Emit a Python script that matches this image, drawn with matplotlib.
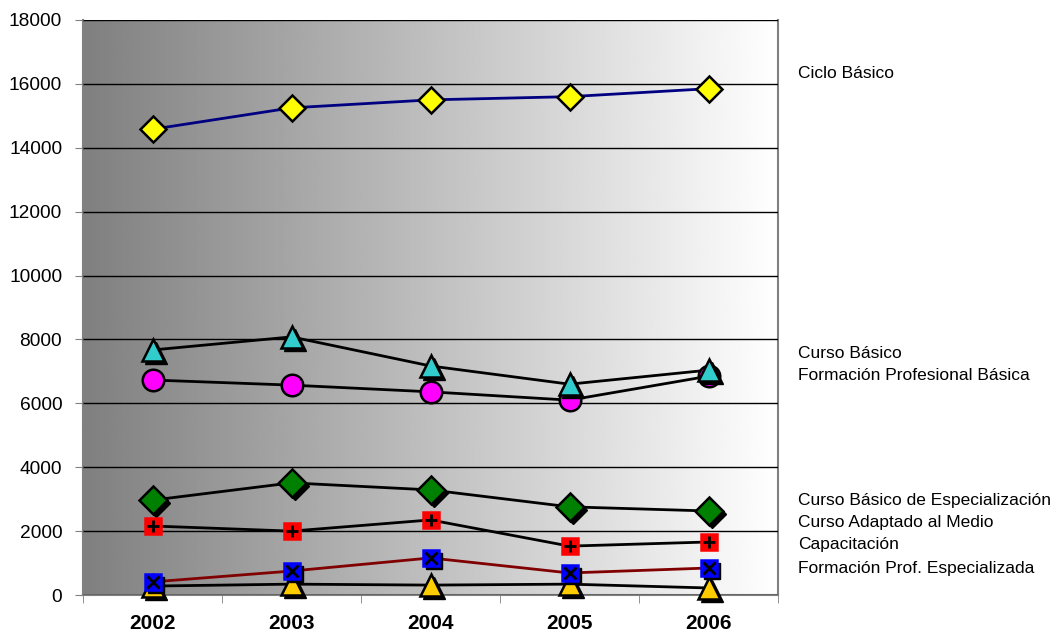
import numpy as np
import matplotlib.pyplot as plt
from matplotlib.transforms import offset_copy

plt.rcParams['font.family'] = ['Liberation Sans', 'DejaVu Sans']

years = ['2002', '2003', '2004', '2005', '2006']
ciclo_basico = [14580, 15250, 15500, 15600, 15850]
curso_basico = [7670, 8080, 7170, 6600, 7040]
fp_basica = [6730, 6570, 6360, 6100, 6850]
curso_esp = [2970, 3510, 3290, 2760, 2630]
curso_adaptado = [2160, 2000, 2350, 1530, 1660]
capacitacion = [410, 750, 1160, 690, 845]
fp_especializada = [280, 340, 310, 340, 220]

labels = ['Ciclo Básico', 'Curso Básico', 'Formación Profesional Básica',
          'Curso Básico de Especialización', 'Curso Adaptado al Medio',
          'Capacitación', 'Formación Prof. Especializada']

fig = plt.figure(figsize=(10.57, 6.37), dpi=100)
ax = fig.add_axes([83 / 1057, 42 / 637, 695 / 1057, 575 / 637])

# gradient background, dark gray at left to white at right
grad = np.linspace(0.5, 1.0, 256).reshape(1, -1)
ax.imshow(grad, cmap='gray', vmin=0, vmax=1, aspect='auto',
          extent=[0, 1, 0, 1], transform=ax.transAxes, zorder=0)

x = np.arange(len(years))
z = [3]


def series(vals, marker, face, line, size, shadow=True, inner=None):
    ax.plot(x, vals, color=line, lw=2, zorder=3)
    z[0] += 1
    if shadow:
        sh = offset_copy(ax.transData, fig=fig, x=3, y=-3, units='dots')
        ax.plot(x, vals, ls='none', marker=marker, ms=size, mfc='black',
                mec='black', transform=sh, zorder=z[0], clip_on=False)
    ax.plot(x, vals, ls='none', marker=marker, ms=size, mfc=face,
            mec='black' if inner is None else face, mew=1.8, zorder=z[0],
            clip_on=False)
    if inner is not None:
        ax.plot(x, vals, ls='none', marker=inner, ms=size * 0.75,
                mec='black', mew=2, zorder=z[0], clip_on=False)


series(ciclo_basico, 'D', '#ffff00', '#000080', 13, shadow=False)
series(fp_basica, 'o', '#ff00ff', 'black', 15.5, shadow=False)
series(curso_basico, '^', '#33cccc', 'black', 16)
series(curso_esp, 'D', '#008000', 'black', 14)
series(curso_adaptado, 's', '#ff0000', 'black', 12, shadow=False, inner='+')
series(fp_especializada, '^', '#ffcc00', 'black', 16)
series(capacitacion, 's', '#0000ff', '#800000', 12, inner='x')

ax.set_xlim(-0.5, 4.5)
ax.set_ylim(0, 18000)
ax.set_yticks(np.arange(0, 18001, 2000))
ax.set_xticks(x)
ax.set_xticklabels(years, fontweight='bold', fontsize=15)
ax.set_xticks(np.arange(-0.5, 4.6, 1), minor=True)
ax.tick_params(axis='x', which='major', length=0, pad=14)
ax.tick_params(axis='x', which='minor', length=6, color='#808080', direction='out')
ax.tick_params(axis='y', length=6, color='#808080', labelsize=13.8, pad=9)
ax.yaxis.grid(True, color='black', lw=1)
ax.set_axisbelow(False)
for s in ax.spines.values():
    s.set_color('#808080')
    s.set_linewidth(1.5)
ax.spines['top'].set_visible(False)

# series names on the right
label_y = [74, 353, 376, 500, 523, 545, 568]
for name, py in zip(labels, label_y):
    fig.text(798 / 1057, 1 - py / 637, name, fontsize=12.5, va='center', ha='left')

fig.savefig('out.png', dpi=100)
